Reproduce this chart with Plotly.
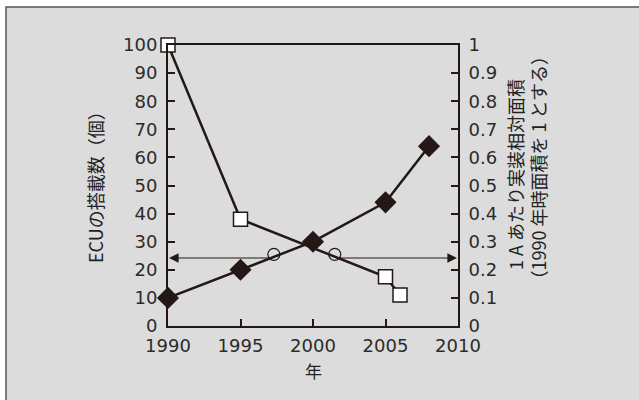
import plotly.graph_objects as go

# data
ecu_years = [1990, 1995, 2000, 2005, 2008]
ecu_count = [10, 20, 30, 44, 64]
area_years = [1990, 1995, 2005, 2006]
area_rel = [1.0, 0.38, 0.175, 0.11]
x_ticks = [1990, 1995, 2000, 2005, 2010]
y1_ticks = [0, 10, 20, 30, 40, 50, 60, 70, 80, 90, 100]
y2_ticks = [0, 0.1, 0.2, 0.3, 0.4, 0.5, 0.6, 0.7, 0.8, 0.9, 1]
y2_labels = ["0", "0.1", "0.2", "0.3", "0.4", "0.5", "0.6", "0.7", "0.8", "0.9", "1"]
arrow_level = 24.2
jump_x = [1997.3, 2001.5]
jump_y = [25.5, 25.5]

INK = "#231815"
FONT = "Noto Sans CJK JP"
TICKFONT = "DejaVu Sans"

fig = go.Figure()
fig.add_trace(go.Scatter(x=ecu_years, y=ecu_count, mode="lines+markers",
                         line=dict(color=INK, width=2.5),
                         marker=dict(symbol="diamond", size=17, color=INK),
                         yaxis="y", showlegend=False, cliponaxis=False))
fig.add_trace(go.Scatter(x=area_years, y=area_rel, mode="lines+markers",
                         line=dict(color=INK, width=2.5),
                         marker=dict(symbol="square", size=14, color="white",
                                     line=dict(color=INK, width=1.5)),
                         yaxis="y2", showlegend=False, cliponaxis=False))
fig.add_trace(go.Scatter(x=jump_x, y=jump_y, mode="markers",
                         marker=dict(symbol="circle-open", size=12, color=INK,
                                     line=dict(width=1.2)),
                         yaxis="y", showlegend=False))

# arrows
fig.add_annotation(x=x_ticks[0], y=arrow_level, ax=jump_x[0], ay=arrow_level,
                   xref="x", yref="y", axref="x", ayref="y", text="",
                   showarrow=True, arrowhead=2, arrowsize=1.6, arrowwidth=1.2,
                   arrowcolor=INK, standoff=1)
fig.add_annotation(x=x_ticks[-1], y=arrow_level, ax=jump_x[1], ay=arrow_level,
                   xref="x", yref="y", axref="x", ayref="y", text="",
                   showarrow=True, arrowhead=2, arrowsize=1.6, arrowwidth=1.2,
                   arrowcolor=INK, standoff=1)

tickfont = dict(family=TICKFONT, size=18, color="#2b2b2b")
fig.update_layout(
    width=639, height=400,
    margin=dict(l=168, r=181, t=45, b=74),
    paper_bgcolor="white", plot_bgcolor="white",
    xaxis=dict(range=[1990, 2010], tickvals=x_ticks, ticks="inside", ticklen=7,
               tickwidth=1.5, tickcolor=INK, showline=True, linecolor=INK,
               linewidth=2, mirror=True, showgrid=False, zeroline=False,
               tickfont=tickfont, ticklabelstandoff=2),
    yaxis=dict(range=[0, 100], tickvals=y1_ticks, ticks="inside", ticklen=7,
               tickwidth=1.5, tickcolor=INK, showline=True, linecolor=INK,
               linewidth=2, showgrid=False, zeroline=False, tickfont=tickfont,
               ticklabelstandoff=5),
    yaxis2=dict(range=[0, 1], tickvals=y2_ticks, ticktext=y2_labels,
                overlaying="y", side="right", ticks="inside", ticklen=7,
                tickwidth=1.5, tickcolor=INK, showline=True, linecolor=INK,
                linewidth=2, showgrid=False, zeroline=False, tickfont=tickfont,
                ticklabelstandoff=5),
)

# outer panel
fig.add_shape(type="rect", xref="paper", yref="paper",
              x0=-0.5586, x1=2.0, y0=-0.6, y1=1.135,
              fillcolor="#dcdcdc", line=dict(color="#555555", width=1.5),
              layer="below")

titlefont = dict(family=FONT, size=18, color="#222222")
fig.add_annotation(text="ECUの搭載数（個）", xref="paper", yref="paper",
                   x=-0.2517, y=0.509, textangle=-90, showarrow=False,
                   xanchor="center", yanchor="middle", font=titlefont)
fig.add_annotation(text="1 A あたり実装相対面積", xref="paper", yref="paper",
                   x=1.1966, y=0.537, textangle=-90, showarrow=False,
                   xanchor="center", yanchor="middle", font=titlefont)
fig.add_annotation(text="（1990 年時面積を 1 とする）", xref="paper", yref="paper",
                   x=1.2759, y=0.564, textangle=-90, showarrow=False,
                   xanchor="center", yanchor="middle", font=titlefont)
fig.add_annotation(text="年", xref="paper", yref="paper",
                   x=0.5, y=-0.16, showarrow=False,
                   xanchor="center", yanchor="middle",
                   font=dict(family=FONT, size=17, color="#222222"))

fig.write_html("out.html", config={"displayModeBar": False},
               post_script="document.body.style.margin='0';")
